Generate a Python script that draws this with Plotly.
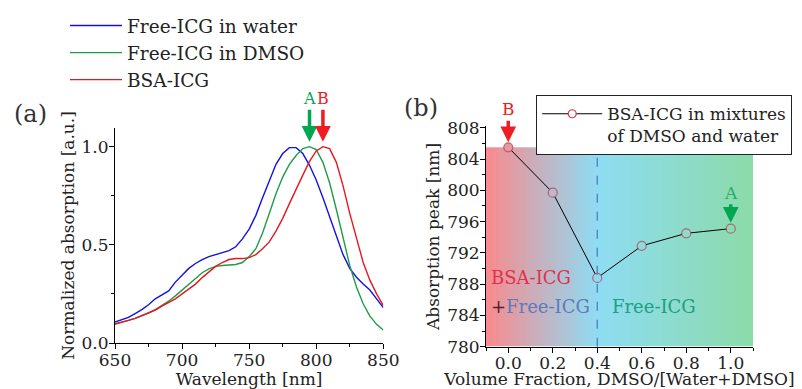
import numpy as np
import plotly.graph_objects as go

# ---------------- data: panel (a) ----------------
wavelength_nm = [650, 655, 660, 665, 670, 675, 680, 685, 690, 695, 700, 705, 710, 715, 720,
                 725, 730, 735, 740, 745, 750, 755, 760, 765, 770, 775, 780, 785, 790, 795,
                 800, 805, 810, 815, 820, 825, 830, 835, 840, 845, 850]
free_icg_water = [0.107, 0.12, 0.13, 0.15, 0.17, 0.195, 0.225, 0.245, 0.265, 0.31, 0.345,
                  0.38, 0.405, 0.425, 0.44, 0.45, 0.46, 0.47, 0.49, 0.53, 0.58, 0.65, 0.74,
                  0.83, 0.91, 0.965, 0.995, 0.995, 0.965, 0.905, 0.83, 0.74, 0.645, 0.54,
                  0.45, 0.38, 0.335, 0.30, 0.27, 0.225, 0.18]
free_icg_dmso = [0.097, 0.105, 0.115, 0.125, 0.138, 0.152, 0.17, 0.19, 0.213, 0.24, 0.27,
                 0.30, 0.33, 0.358, 0.378, 0.39, 0.395, 0.396, 0.40, 0.41, 0.44, 0.48, 0.56,
                 0.66, 0.76, 0.845, 0.91, 0.955, 0.99, 1.0, 0.985, 0.92, 0.815, 0.68, 0.535,
                 0.395, 0.285, 0.2, 0.137, 0.095, 0.066]
bsa_icg = [0.097, 0.105, 0.115, 0.125, 0.138, 0.152, 0.168, 0.188, 0.205, 0.225, 0.25,
           0.275, 0.30, 0.333, 0.36, 0.39, 0.41, 0.425, 0.43, 0.43, 0.435, 0.45, 0.48, 0.515,
           0.57, 0.635, 0.71, 0.785, 0.855, 0.925, 0.978, 1.0, 0.99, 0.92, 0.80, 0.66, 0.53,
           0.41, 0.32, 0.25, 0.19]

# ---------------- data: panel (b) ----------------
dmso_fraction = [0.0, 0.2, 0.4, 0.6, 0.8, 1.0]
absorption_peak_nm = [805.5, 799.7, 788.8, 792.9, 794.5, 795.1]

x_ticks_a = [650, 700, 750, 800, 850]
y_ticks_a = [0.0, 0.5, 1.0]
x_ticks_b = [0.0, 0.2, 0.4, 0.6, 0.8, 1.0]
y_ticks_b = [780, 784, 788, 792, 796, 800, 804, 808]

FONT = "DejaVu Serif"
BLUE, GREEN, RED = "#1212e6", "#1f9b4a", "#e8161e"
ARROW_RED, ARROW_GREEN = "#ee1d23", "#00a651"

W, H, MB = 802, 389, 24
PH = H - MB


def px_x(px):
    return px / W


def px_y(py):
    return (PH - py) / PH


fig = go.Figure()

# panel (a) curves
for name, ys, col in [("Free-ICG in water", free_icg_water, BLUE),
                      ("Free-ICG in DMSO", free_icg_dmso, GREEN),
                      ("BSA-ICG", bsa_icg, RED)]:
    fig.add_trace(go.Scatter(x=wavelength_nm, y=ys, mode="lines", name=name,
                             line=dict(color=col, width=1.4), xaxis="x", yaxis="y",
                             legend="legend"))

# panel (b) gradient background
xmin_b, xmax_b = -0.1, 1.1
split = dmso_fraction[int(np.argmin(absorption_peak_nm))]
edges = np.linspace(xmin_b, xmax_b, 241)
centers = (edges[:-1] + edges[1:]) / 2
s = (split - xmin_b) / (xmax_b - xmin_b)
cscale = [[0.0, "#f88a8e"], [s, "#8edcf3"], [1.0, "#8cdba9"]]
fig.add_trace(go.Heatmap(x=edges, y=[780, max(absorption_peak_nm)], z=[centers],
                         colorscale=cscale, showscale=False, zsmooth=False,
                         hoverinfo="skip", xaxis="x2", yaxis="y2", showlegend=False))


def interp_color(v):
    t = (v - xmin_b) / (xmax_b - xmin_b)
    stops = [(p, tuple(int(c[i:i + 2], 16) for i in (1, 3, 5))) for p, c in cscale]
    for (p0, c0), (p1, c1) in zip(stops[:-1], stops[1:]):
        if p0 <= t <= p1:
            f = (t - p0) / (p1 - p0)
            return "rgb(%d,%d,%d)" % tuple(round(a + (b - a) * f) for a, b in zip(c0, c1))
    return "white"


fig.add_trace(go.Scatter(x=dmso_fraction, y=absorption_peak_nm, mode="lines+markers",
                         line=dict(color="black", width=1),
                         marker=dict(size=9, color=[interp_color(v) for v in dmso_fraction],
                                     line=dict(color="rgba(185,45,70,0.65)", width=1.2)),
                         xaxis="x2", yaxis="y2", showlegend=False))
fig.add_trace(go.Scatter(x=[None], y=[None], mode="lines+markers",
                         name="BSA-ICG in mixtures<br>of DMSO and water",
                         line=dict(color="black", width=1),
                         marker=dict(size=8, color="white",
                                     line=dict(color="rgba(200,40,60,0.9)", width=1.2)),
                         xaxis="x2", yaxis="y2", legend="legend2"))

fig.add_shape(type="line", xref="x2", yref="y2", x0=split, x1=split, y0=780,
              y1=max(absorption_peak_nm), line=dict(color="#4d7fb8", width=1.3, dash="dash"),
              layer="above")

axis_common = dict(showline=True, linecolor="black", linewidth=1, ticks="outside",
                   ticklen=5, tickcolor="black", showgrid=False, zeroline=False,
                   mirror=False, automargin=False, ticklabelstandoff=-3,
                   tickfont=dict(family=FONT, size=17, color="#222"),
                   title_font=dict(family=FONT, size=17, color="#222"))

fig.update_layout(
    width=W, height=H, margin=dict(l=0, r=0, t=0, b=MB, autoexpand=False),
    paper_bgcolor="white", plot_bgcolor="rgba(0,0,0,0)",
    font=dict(family=FONT, size=17, color="#222"),
    xaxis=dict(axis_common, domain=[px_x(115), px_x(383.3)], range=[650, 850],
               tickvals=x_ticks_a,
               minor=dict(ticks="outside", ticklen=3, dtick=25, tick0=650),
               title=dict(text="Wavelength [nm]", standoff=0), anchor="y"),
    yaxis=dict(axis_common, domain=[px_y(343), px_y(128)], range=[0, 1.095],
               tickvals=y_ticks_a, tickformat=".1f",
               minor=dict(ticks="outside", ticklen=3, dtick=0.25, tick0=0),
               title=dict(text="Normalized absorption [a.u.]", standoff=2), anchor="x"),
    xaxis2=dict(axis_common, domain=[px_x(486), px_x(753)], range=[xmin_b, xmax_b],
                tickvals=x_ticks_b, tickformat=".1f", ticklabelstandoff=-4,
                minor=dict(ticks="outside", ticklen=3, dtick=0.1, tick0=0),
                title=dict(text="Volume Fraction, DMSO/[Water+DMSO]", standoff=5),
                anchor="y2"),
    yaxis2=dict(axis_common, domain=[px_y(346.7), px_y(126.2)], range=[780, 808.2],
                tickvals=y_ticks_b, minor=dict(ticks="outside", ticklen=3, dtick=2, tick0=780),
                title=dict(text="Absorption peak [nm]", standoff=3), anchor="x2"),
    legend=dict(x=px_x(65), y=px_y(7), xanchor="left", yanchor="top",
                bgcolor="rgba(0,0,0,0)",
                font=dict(family=FONT, size=18.5, color="#222"), itemwidth=52,
                tracegroupgap=0),
    legend2=dict(x=px_x(536), y=px_y(95), xanchor="left", yanchor="top", bgcolor="white",
                 bordercolor="#222", borderwidth=1.2, valign="top", itemwidth=60,
                 font=dict(family=FONT, size=17, color="#222")),
)

# panel labels
fig.add_annotation(text="(a)", xref="paper", yref="paper", x=px_x(30), y=px_y(114),
                   xanchor="center", yanchor="middle", showarrow=False,
                   font=dict(family=FONT, size=24, color="#333"))
fig.add_annotation(text="(b)", xref="paper", yref="paper", x=px_x(421), y=px_y(108),
                   xanchor="center", yanchor="middle", showarrow=False,
                   font=dict(family=FONT, size=24, color="#333"))

# peak arrows panel (a)
pk_a = wavelength_nm[int(np.argmax(free_icg_dmso))]
pk_b = wavelength_nm[int(np.argmax(bsa_icg))]
for lab, xv, col in [("A", pk_a, ARROW_GREEN), ("B", pk_b, ARROW_RED)]:
    fig.add_annotation(text=lab, x=xv, y=1.0, xref="x", yref="y", showarrow=True,
                       ax=0, ay=-48, arrowhead=2, arrowsize=0.9, arrowwidth=3.5,
                       arrowcolor=col, standoff=5, font=dict(family=FONT, size=16, color=col))

# arrows panel (b)
fig.add_annotation(text="B", x=dmso_fraction[0], y=absorption_peak_nm[0], xref="x2", yref="y2",
                   showarrow=True, ax=0, ay=-38, arrowhead=2, arrowsize=0.9, arrowwidth=3.5,
                   arrowcolor=ARROW_RED, standoff=5, font=dict(family=FONT, size=17, color=ARROW_RED))
fig.add_annotation(text="A", x=dmso_fraction[-1], y=absorption_peak_nm[-1], xref="x2", yref="y2",
                   showarrow=True, ax=0, ay=-36, arrowhead=2, arrowsize=0.9, arrowwidth=3.5,
                   arrowcolor=ARROW_GREEN, standoff=6,
                   font=dict(family=FONT, size=17, color="#22b060"))

# region labels panel (b)
fig.add_annotation(text="BSA-ICG", x=0.104, y=788.8, xref="x2", yref="y2", showarrow=False,
                   font=dict(family=FONT, size=18, color="#e0304e"))
fig.add_annotation(text="<span style='color:#502030'>+</span>Free-ICG", x=0.145, y=785.1,
                   xref="x2", yref="y2", showarrow=False,
                   font=dict(family=FONT, size=18, color="#5a7cbc"))
fig.add_annotation(text="Free-ICG", x=0.656, y=785.1, xref="x2", yref="y2", showarrow=False,
                   font=dict(family=FONT, size=18, color="#1aa082"))

fig.write_html("out.html", config={"displayModeBar": False},
               post_script="document.body.style.margin='0px';")
